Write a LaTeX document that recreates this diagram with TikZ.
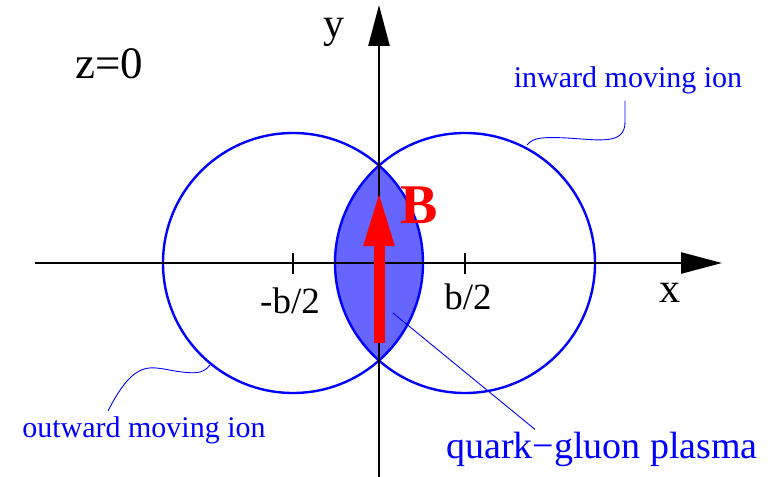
\documentclass[tikz,border=0pt]{standalone}
\usepackage{fontspec}
\setmainfont{Liberation Serif}
\usetikzlibrary{arrows.meta}

\begin{document}
\begin{tikzpicture}[x=1pt, y=-1pt,
  circ/.style={draw=blue, line width=2.4pt},
  axis/.style={line width=2.6pt, -{Triangle[length=41pt,width=21pt]}},
  tickmark/.style={line width=2pt},
  lbl/.style={anchor=base, inner sep=0pt},
  ion/.style={anchor=base, inner sep=0pt, text=blue,
              font=\fontsize{30}{30}\selectfont},
  leader/.style={draw=blue, line width=0.9pt},
  field/.style={red, line width=11pt, -{Triangle[length=55pt,width=28pt]}}
]
  \useasboundingbox (0,0) rectangle (775,476);

  % centres of the two ions
  \coordinate (cl) at (293,263);
  \coordinate (cr) at (465,263);

  % overlap region
  \begin{scope}
    \clip (cl) circle[radius=130];
    \fill[blue!60] (cr) circle[radius=130];
  \end{scope}
  \draw[circ] (cl) circle[radius=130];
  \draw[circ] (cr) circle[radius=130];

  % axes
  \coordinate (xstart) at (35,263);
  \coordinate (xend)   at (722,263);
  \coordinate (ystart) at (379,480);
  \coordinate (yend)   at (379,5);
  \draw[tickmark] (293,253) -- (293,274);
  \draw[tickmark] (465,253) -- (465,274);
  \draw[axis] (xstart) -- (xend);
  \draw[axis] (ystart) -- (yend);

  % magnetic field
  \coordinate (bfoot) at (379,343);
  \coordinate (btip)  at (379,191);
  \draw[field] (bfoot) -- (btip);

  % labels
  \node[lbl, font=\fontsize{45}{45}\selectfont] (zlbl) at (109,79) {z=0};
  \node[lbl, font=\fontsize{42}{42}\selectfont] (ylbl) at (334,38) {y};
  \node[lbl, font=\fontsize{42}{42}\selectfont] (xlbl) at (670,302) {x};
  \node[lbl, font=\fontsize{37}{37}\selectfont] (mlbl) at (290,313) {-b/2};
  \node[lbl, font=\fontsize{37}{37}\selectfont] (plbl) at (468,309) {b/2};
  \node[lbl, text=red, font=\fontsize{56}{56}\selectfont\bfseries] (blbl) at (419,223) {B};
  \node[ion] (inlbl)  at (628,88)  {inward moving ion};
  \node[ion] (outlbl) at (144,437) {outward moving ion};
  \node[ion, font=\fontsize{38}{38}\selectfont] (qlbl) at (602,458) {quark−gluon plasma};

  % leader lines
  \coordinate (inpt)  at (527,145);
  \coordinate (intip) at ([xshift=-3pt,yshift=-6pt]inlbl.south);
  \coordinate (outpt) at (210,365);
  \coordinate (outtip) at ([xshift=-36pt,yshift=5pt]outlbl.north);
  \coordinate (qpt)   at (393,313);
  \coordinate (qtip)  at ([xshift=-67pt,yshift=2pt]qlbl.north);
  \draw[leader] (inpt) .. controls (533,137) and (545,137) .. (567,138)
    .. controls (600,140) and (625,145) .. (625,122) -- (intip);
  \draw[leader] (outpt) .. controls (203,374) and (195,374) .. (175,371)
    .. controls (150,367) and (135,358) .. (outtip);
  \draw[leader] (qpt) -- (qtip);
\end{tikzpicture}
\end{document}
